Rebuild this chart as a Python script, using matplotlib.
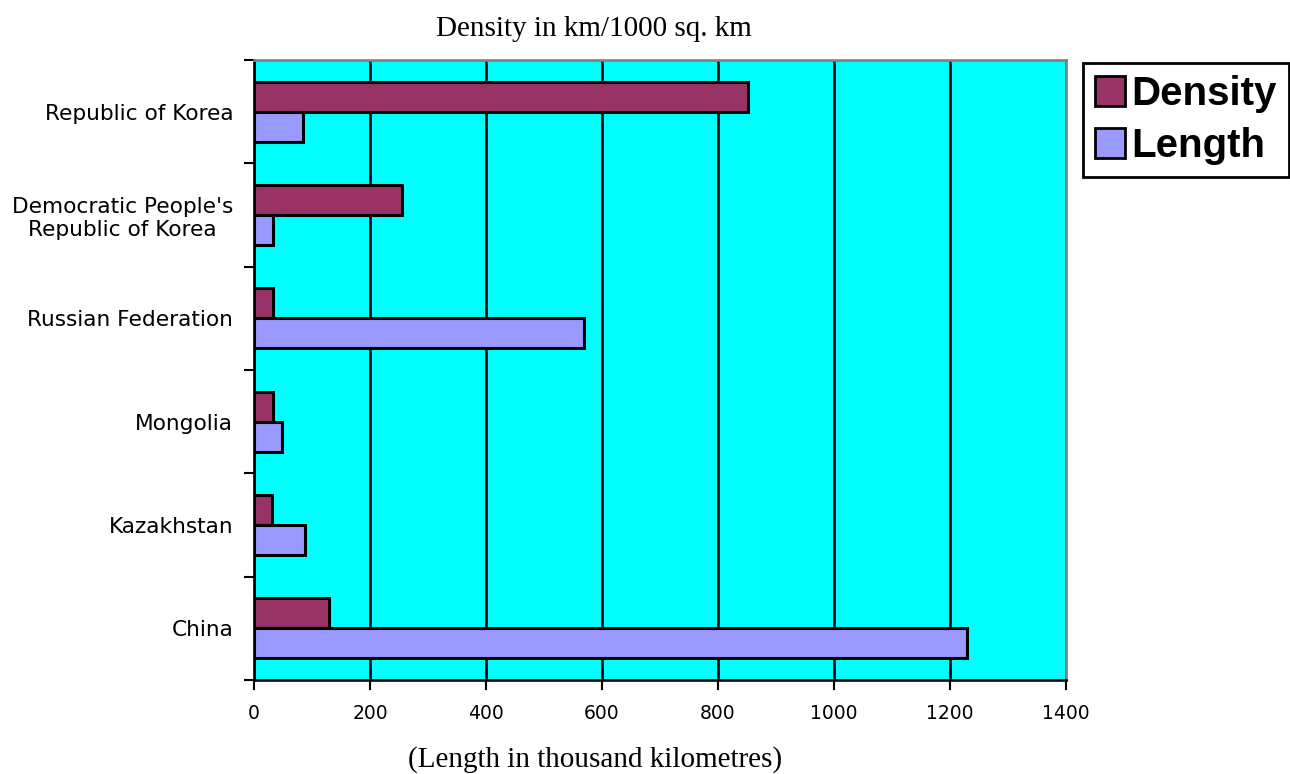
import matplotlib.pyplot as plt
import numpy as np

# road network by country, bottom to top as drawn
countries = ["China", "Kazakhstan", "Mongolia", "Russian Federation",
             "Democratic People's\nRepublic of Korea", "Republic of Korea"]
density = [129, 31, 32, 33, 255, 852]
length = [1230, 88, 49, 569, 32, 85]

fig = plt.figure(figsize=(12.9, 7.74), dpi=100)
ax = fig.add_axes([254 / 1290, 1 - 680 / 774, 812 / 1290, 620 / 774])
ax.set_facecolor('#00ffff')

y = np.arange(len(countries))
h = 0.29
ax.barh(y + h / 2, density, height=h, color='#993366', edgecolor='black',
        linewidth=2.2, label='Density', zorder=3)
ax.barh(y - h / 2, length, height=h, color='#9999ff', edgecolor='black',
        linewidth=2.2, label='Length', zorder=3)

ax.set_xlim(0, 1400)
ax.set_ylim(-0.5, len(countries) - 0.5)
ax.set_xticks(np.arange(0, 1401, 200))
ax.tick_params(axis='x', direction='out', length=7, width=1.5, pad=10,
               labelsize=13.5)
ax.xaxis.grid(True, color='black', linewidth=1.9, zorder=1)

# ticks between categories, labels centred on them
ax.set_yticks(np.arange(-0.5, len(countries), 1.0))
ax.set_yticklabels([])
ax.set_yticks(y, minor=True)
ax.set_yticklabels(countries, minor=True, fontsize=15.6, ha='right',
                   multialignment='center')
ax.tick_params(axis='y', which='major', direction='out', length=7, width=1.5)
ax.tick_params(axis='y', which='minor', length=0, pad=15)

for s in ['left', 'bottom']:
    ax.spines[s].set_color('black')
    ax.spines[s].set_linewidth(1.9)
for s in ['top', 'right']:
    ax.spines[s].set_color('#808080')
    ax.spines[s].set_linewidth(1.9)
ax.set_axisbelow(True)

fig.text(594 / 1290, 1 - 29 / 774, 'Density in km/1000 sq. km',
         family='Liberation Serif', fontsize=21, ha='center', va='center')
fig.text(595 / 1290, 1 - 760 / 774, '(Length in thousand kilometres)',
         family='Liberation Serif', fontsize=21, ha='center', va='center')

leg = fig.legend(loc='upper left', bbox_to_anchor=(1083 / 1290, 1 - 63 / 774),
                 prop={'family': 'Liberation Sans', 'weight': 'bold', 'size': 29},
                 handlelength=0.75, handleheight=0.75, handletextpad=0.15,
                 labelspacing=0.35, borderpad=0.3, borderaxespad=0,
                 fancybox=False, framealpha=1)
leg.get_frame().set_edgecolor('black')
leg.get_frame().set_linewidth(2)
for p in leg.get_patches():
    p.set_linewidth(2)

fig.savefig('out.png', dpi=100)
